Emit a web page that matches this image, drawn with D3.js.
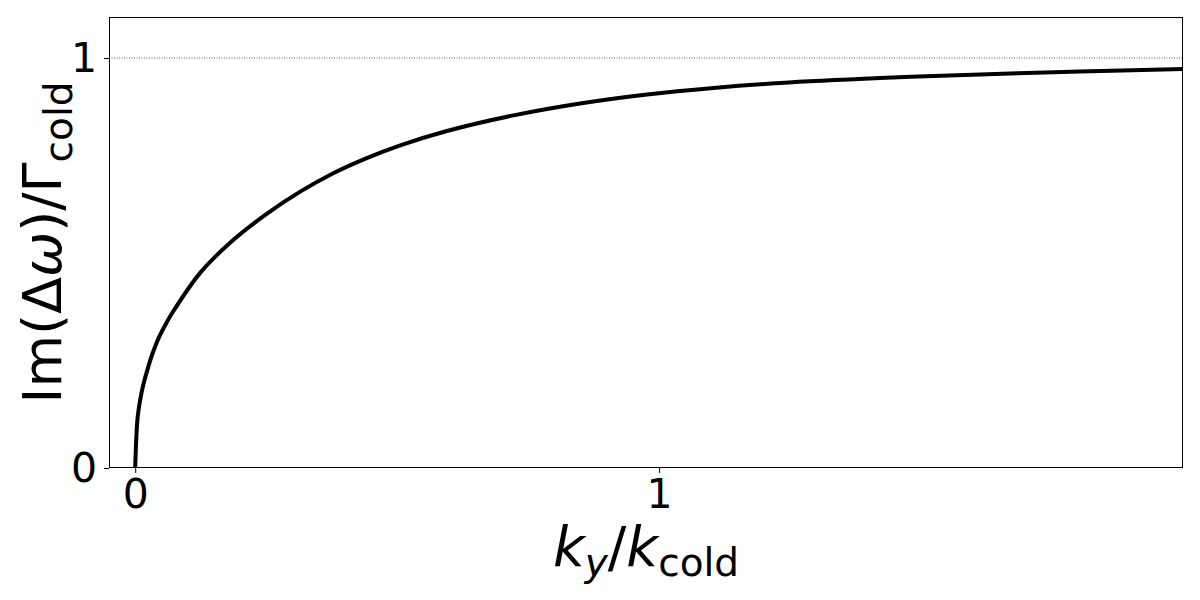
<!DOCTYPE html>
<html><head><meta charset="utf-8">
<script src="https://cdn.jsdelivr.net/npm/d3@7"></script>
<style>body{margin:0;background:#fff}svg{display:block;font-family:"DejaVu Sans",sans-serif}</style>
</head><body><svg id="c" width="1200" height="600"></svg>
<script>
const kx  = [0, 0.0044, 0.0095, 0.0158, 0.0248, 0.0319, 0.0458, 0.0605, 0.0706, 0.124, 0.187, 0.251, 0.315, 0.378, 0.442, 0.506, 0.595, 0.722, 0.849, 0.977, 1.104, 1.231, 1.422, 1.613, 1.803, 2.0];
const imw = [0, 0.120, 0.166, 0.205, 0.246, 0.275, 0.320, 0.356, 0.378, 0.476, 0.556, 0.620, 0.674, 0.719, 0.756, 0.787, 0.822, 0.860, 0.889, 0.911, 0.927, 0.939, 0.951, 0.960, 0.967, 0.973];
const xTicks = [0, 1];
const yTicks = [0, 1];
const refLevel = [1];

const svg = d3.select("#c");
const L = 109, R = 1183, T = 17, B = 468;
const x = d3.scaleLinear().domain([-0.05, 2.0]).range([L, R]);
const y = d3.scaleLinear().domain([0, 1.1]).range([B, T]);

svg.append("defs").append("clipPath").attr("id","clip").append("rect")
  .attr("x", L).attr("y", T).attr("width", R-L).attr("height", B-T);

svg.selectAll("line.ref").data(refLevel).enter().append("line")
  .attr("x1", L).attr("x2", R).attr("y1", d=>y(d)).attr("y2", d=>y(d))
  .attr("stroke", "#333").attr("stroke-width", 0.8).attr("stroke-dasharray", "1,1.5");

const pts = kx.map((v,i)=>[v, imw[i]]);
svg.append("path").datum(pts)
  .attr("clip-path","url(#clip)")
  .attr("d", d3.line().x(d=>x(d[0])).y(d=>y(d[1])).curve(d3.curveCatmullRom.alpha(0.5)))
  .attr("fill","none").attr("stroke","#000").attr("stroke-width",4);

const xa = svg.append("g").attr("transform",`translate(0,${B})`)
  .call(d3.axisBottom(x).tickValues(xTicks).tickFormat(d3.format("d")).tickSize(5).tickPadding(6));
const ya = svg.append("g").attr("transform",`translate(${L},0)`)
  .call(d3.axisLeft(y).tickValues(yTicks).tickFormat(d3.format("d")).tickSize(5).tickPadding(7));
[xa, ya].forEach(g=>{
  g.select(".domain").remove();
  g.selectAll("text").attr("font-size", 41).attr("font-family","DejaVu Sans").attr("fill","#000");
  g.selectAll("line").attr("stroke","#000");
});

svg.append("rect").attr("x", L+0.5).attr("y", T+0.5).attr("width", R-L-1).attr("height", B-T-1)
  .attr("fill","none").attr("stroke","#000").attr("stroke-width",1);

// x label
const xl = svg.append("text").attr("x", (L+R)/2).attr("y", 566).attr("text-anchor","middle")
  .attr("font-size", 55).attr("fill","#000");
xl.append("tspan").attr("font-style","italic").text("k");
xl.append("tspan").attr("font-style","italic").attr("font-size",39).attr("dy",10).text("y");
xl.append("tspan").attr("dy",-10).text("/");
xl.append("tspan").attr("font-style","italic").text("k");
xl.append("tspan").attr("font-size",39).attr("dy",10).text("cold");

// y label
const yl = svg.append("text").attr("transform",`translate(61,${(T+B)/2}) rotate(-90)`).attr("text-anchor","middle")
  .attr("font-size", 54).attr("fill","#000");
yl.append("tspan").text("Im(Δ");
yl.append("tspan").attr("font-style","italic").text("ω");
yl.append("tspan").text(")/Γ");
yl.append("tspan").attr("font-size",39).attr("dy",11).text("cold");
</script></body></html>
